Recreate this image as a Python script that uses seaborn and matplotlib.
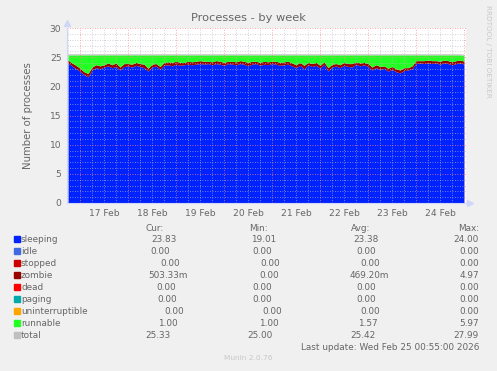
import numpy as np
import pandas as pd
import matplotlib
matplotlib.use("Agg")
import matplotlib.pyplot as plt
import matplotlib.dates as mdates
from matplotlib.patches import Rectangle
import seaborn as sns

# ---------------- data ----------------
series_names = ["sleeping", "idle", "stopped", "zombie", "dead", "paging",
                "uninterruptible", "runnable", "total"]
series_colors = ["#0022ff", "#4169e1", "#cc0000", "#990000", "#ff0000",
                 "#00aaaa", "#ffa500", "#22ff22", "#c0c0c0"]

start_time = "2026-02-16 18:00"
step = "2h"

sleeping = [24.0, 23.5, 23.0, 22.6, 22.0, 21.6, 22.8, 23.2,
            23.0, 23.3, 23.5, 23.2, 23.4, 22.8, 23.4, 23.5, 23.3, 23.6, 23.4, 23.2,
            22.6, 23.3, 23.5, 22.9, 23.6, 23.7, 23.5, 23.8, 23.6, 23.7, 23.8, 23.7, 23.8,
            23.9, 23.8, 23.9, 23.7, 23.9, 23.8, 23.6, 23.9, 23.8, 23.7, 23.9, 23.8,
            23.5, 23.8, 23.9, 23.6, 23.8, 23.7, 23.9, 23.8, 23.6, 23.7, 23.8, 23.5,
            23.2, 23.6, 23.0, 23.7, 23.4, 23.6, 23.1, 23.8, 22.6,
            23.3, 23.5, 23.2, 23.6, 23.4, 23.3, 23.8, 23.5, 23.7, 23.4,
            22.8, 23.2, 22.9, 23.1, 22.6, 22.9, 22.5, 22.3, 22.7, 22.8, 23.0,
            23.9, 24.0, 23.9, 24.0, 23.9, 24.0, 23.8, 24.0, 23.9, 23.7, 23.9, 24.0, 23.83]
zombie = [0.5, 0.5, 0.6, 0.5, 0.5, 0.6, 0.5, 0.5,
          0.5, 0.4, 0.5, 0.5, 0.6, 0.5, 0.5, 0.4, 0.5, 0.5, 0.5, 0.6,
          0.5, 0.5, 0.4, 0.5, 0.5, 0.5, 0.6, 0.5, 0.5, 0.4, 0.5, 0.5, 0.5,
          0.5, 0.5, 0.4, 0.5, 0.5, 0.5, 0.5, 0.4, 0.5, 0.5, 0.5, 0.5,
          0.6, 0.5, 0.4, 0.5, 0.5, 0.5, 0.4, 0.5, 0.5, 0.5, 0.5, 0.5,
          0.5, 0.5, 0.6, 0.4, 0.5, 0.5, 0.5, 0.4, 0.6,
          0.5, 0.4, 0.5, 0.5, 0.5, 0.6, 0.4, 0.5, 0.4, 0.5,
          0.5, 0.5, 0.5, 0.4, 0.5, 0.5, 0.5, 0.5, 0.5, 0.4, 0.5,
          0.5, 0.4, 0.5, 0.5, 0.5, 0.4, 0.5, 0.5, 0.5, 0.5, 0.5, 0.5, 0.50]
runnable = [0.9, 1.4, 1.8, 2.3, 2.9, 3.2, 2.1, 1.7,
            1.9, 1.7, 1.4, 1.7, 1.4, 2.1, 1.5, 1.5, 1.6, 1.3, 1.5, 1.6,
            2.3, 1.6, 1.5, 2.0, 1.3, 1.2, 1.3, 1.1, 1.3, 1.3, 1.1, 1.2, 1.1,
            1.0, 1.1, 1.1, 1.2, 1.0, 1.1, 1.3, 1.1, 1.1, 1.2, 1.0, 1.1,
            1.3, 1.1, 1.1, 1.3, 1.1, 1.2, 1.1, 1.1, 1.3, 1.2, 1.1, 1.4,
            1.7, 1.3, 1.8, 1.3, 1.5, 1.3, 1.8, 1.2, 2.2,
            1.6, 1.5, 1.7, 1.3, 1.5, 1.5, 1.2, 1.4, 1.3, 1.5,
            2.1, 1.7, 2.0, 1.9, 2.3, 2.0, 2.4, 2.6, 2.2, 2.2, 1.9,
            1.0, 1.0, 1.0, 0.9, 1.0, 1.0, 1.1, 0.9, 1.0, 1.2, 1.0, 0.9, 1.00]
idle = [0.0] * len(sleeping)
stopped = [0.0] * len(sleeping)
dead = [0.0] * len(sleeping)
paging = [0.0] * len(sleeping)
uninterruptible = [0.0] * len(sleeping)

cur_vals = ["23.83", "0.00", "0.00", "503.33m", "0.00", "0.00", "0.00", "1.00", "25.33"]
min_vals = ["19.01", "0.00", "0.00", "0.00", "0.00", "0.00", "0.00", "1.00", "25.00"]
avg_vals = ["23.38", "0.00", "0.00", "469.20m", "0.00", "0.00", "0.00", "1.57", "25.42"]
max_vals = ["24.00", "0.00", "0.00", "4.97", "0.00", "0.00", "0.00", "5.97", "27.99"]

title = "Processes - by week"
ylabel = "Number of processes"
last_update = "Last update: Wed Feb 25 00:55:00 2026"

# ---------------- frame ----------------
times = pd.date_range(start_time, periods=len(sleeping), freq=step)
df = pd.DataFrame({"time": times, "sleeping": sleeping, "idle": idle,
                   "stopped": stopped, "zombie": zombie, "dead": dead,
                   "paging": paging, "uninterruptible": uninterruptible,
                   "runnable": runnable})
df["total"] = df[series_names[:-1]].sum(axis=1)

sns.set_style("white")
plt.rcParams["font.family"] = ["DejaVu Sans"]
FONT = "#666666"
W, H = 497, 371
fig = plt.figure(figsize=(W / 100, H / 100), dpi=100, facecolor="#f0f0f0")
ax = fig.add_axes([67 / W, 1 - 203 / H, 399 / W, 175 / H])
ax.set_facecolor("white")

ax.stackplot(df["time"], *[df[n] for n in series_names[:-1]],
             colors=series_colors[:-1], linewidth=0, zorder=1)
sns.lineplot(x=df["time"], y=df["total"], color=series_colors[-1],
             linewidth=0.8, ax=ax, zorder=2)

ax.set_xlim(pd.Timestamp("2026-02-16 17:30"), pd.Timestamp("2026-02-25 01:00"))
ax.set_ylim(0, 30)

# grid
ax.xaxis.set_major_locator(mdates.DayLocator())
ax.xaxis.set_minor_locator(mdates.HourLocator(byhour=[6, 12, 18]))
ax.xaxis.set_major_formatter(plt.NullFormatter())
ax.xaxis.set_minor_formatter(plt.FuncFormatter(
    lambda v, p: mdates.num2date(v).strftime("%d %b") if mdates.num2date(v).hour == 12 else ""))
ax.yaxis.set_major_locator(plt.MultipleLocator(5))
ax.yaxis.set_minor_locator(plt.MultipleLocator(1))
ax.set_axisbelow(False)
ax.grid(which="major", color="#ff8080", linestyle=(0, (1, 2)), linewidth=0.6, alpha=0.9, zorder=3)
ax.grid(which="minor", color="#b8b8c8", linestyle=(0, (1, 2)), linewidth=0.6, alpha=0.85, zorder=3)

ax.tick_params(axis="both", which="both", labelsize=6.6, labelcolor=FONT, pad=2)
ax.tick_params(axis="x", which="major", length=2, color="#ff6060")
ax.tick_params(axis="x", which="minor", length=0, pad=4)
ax.tick_params(axis="y", which="major", length=2, color="#ff6060")
ax.tick_params(axis="y", which="minor", length=0)

for s in ["top", "right"]:
    ax.spines[s].set_visible(False)
for s in ["left", "bottom"]:
    ax.spines[s].set_color("#cfd6f8")
    ax.spines[s].set_linewidth(0.8)
    ax.spines[s].set_zorder(4)
ax.plot([0], [1.03], marker="^", markersize=4, color="#cfd6f8", transform=ax.transAxes, clip_on=False)
ax.plot([1.01], [0], marker=">", markersize=4, color="#cfd6f8", transform=ax.transAxes, clip_on=False)
ax.set_xlabel("")
ax.set_ylabel(ylabel, fontsize=7.3, color=FONT, labelpad=12)

def ftext(x, y, s, **kw):
    kw.setdefault("color", FONT)
    kw.setdefault("va", "center")
    fig.text(x / W, 1 - y / H, s, **kw)

ftext(248, 18, title, fontsize=8.2, ha="center")
ftext(488, 51, "RRDTOOL / TOBI OETIKER", fontsize=5.2, ha="center", rotation=270, color="#c8c8c8")

# legend table
LS = 6.4
ftext(155, 228, "Cur:", fontsize=LS, ha="center")
ftext(258, 228, "Min:", fontsize=LS, ha="center")
ftext(361, 228, "Avg:", fontsize=LS, ha="center")
ftext(479, 228, "Max:", fontsize=LS, ha="right")
cur_x = [164, 160, 170, 168, 166, 167, 174, 168, 158]
min_x = [264, 262, 270, 269, 262, 262, 272, 269, 260]
avg_x = [366, 366, 370, 369, 366, 366, 370, 368, 363]
for i, name in enumerate(series_names):
    y = 239 + 12 * i
    fig.patches.append(Rectangle((14 / W, 1 - (y + 3) / H), 6 / W, 6 / H,
                                 transform=fig.transFigure, color=series_colors[i]))
    ftext(21, y, name, fontsize=LS)
    ftext(cur_x[i], y, cur_vals[i], fontsize=LS, ha="center")
    ftext(min_x[i], y, min_vals[i], fontsize=LS, ha="center")
    ftext(avg_x[i], y, avg_vals[i], fontsize=LS, ha="center")
    ftext(479, y, max_vals[i], fontsize=LS, ha="right")
ftext(479, 347, last_update, fontsize=LS, ha="right")
ftext(248, 358, "Munin 2.0.76", fontsize=5.3, ha="center", color="#c8c8c8")

fig.savefig("out.png", dpi=100, facecolor=fig.get_facecolor())
